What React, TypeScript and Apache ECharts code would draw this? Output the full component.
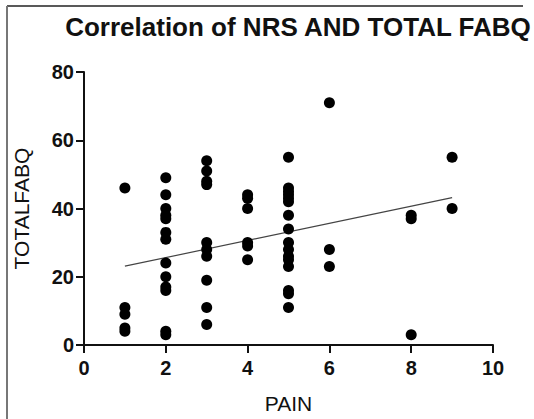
import React, { useEffect, useRef } from "react";
import * as echarts from "echarts";

const painLevels = [1, 2, 3, 4, 5, 6, 8, 9];
const fabqPain1 = [46, 11, 9, 5, 4];
const fabqPain2 = [49, 44, 40, 38, 37, 33, 31, 24, 20, 17, 16, 4, 3];
const fabqPain3 = [54, 51, 48, 47, 30, 28, 26, 19, 11, 6];
const fabqPain4 = [44, 43, 40, 30, 29, 25];
const fabqPain5 = [55, 46, 45, 44, 43, 42, 38, 34, 30, 28, 26, 25, 23, 16, 15, 11];
const fabqPain6 = [71, 28, 23];
const fabqPain8 = [38, 37, 3];
const fabqPain9 = [55, 40];
const fabqByPain = [fabqPain1, fabqPain2, fabqPain3, fabqPain4, fabqPain5, fabqPain6, fabqPain8, fabqPain9];

const fitPain = [1, 9];
const fitFabq = [23.1, 43.2];

const xTicks = [0, 2, 4, 6, 8, 10];
const yTicks = [0, 20, 40, 60, 80];

export default function App() {
  const ref = useRef<HTMLDivElement>(null);
  useEffect(() => {
    if (!ref.current) return;
    const chart = echarts.init(ref.current, null, { renderer: "svg" });
    const points: number[][] = [];
    painLevels.forEach((p, i) => fabqByPain[i].forEach((v) => points.push([p, v])));
    const fit = fitPain.map((p, i) => [p, fitFabq[i]]);
    const font = "'Liberation Sans', Arial, sans-serif";
    chart.setOption({
      animation: false,
      backgroundColor: "#ffffff",
      title: {
        text: "Correlation of NRS AND TOTAL FABQ",
        left: 293,
        top: 9,
        textAlign: "center",
        textStyle: { fontFamily: font, fontSize: 26, fontWeight: "bold", color: "#111" },
      },
      grid: { left: 84, right: 41, top: 72, bottom: 73 },
      xAxis: {
        type: "value",
        min: xTicks[0],
        max: xTicks[xTicks.length - 1],
        interval: 2,
        name: "PAIN",
        nameLocation: "middle",
        nameGap: 48,
        nameTextStyle: { fontFamily: font, fontSize: 21, color: "#111" },
        axisLine: { onZero: false, lineStyle: { color: "#111", width: 2 } },
        axisTick: { show: true, length: 8, lineStyle: { color: "#111", width: 2 } },
        axisLabel: { fontFamily: font, fontSize: 20, fontWeight: "bold", color: "#111", margin: 13 },
        splitLine: { show: false },
      },
      yAxis: {
        type: "value",
        min: yTicks[0],
        max: yTicks[yTicks.length - 1],
        interval: 20,
        name: "TOTALFABQ",
        nameLocation: "middle",
        nameGap: 52,
        nameTextStyle: { fontFamily: font, fontSize: 21, color: "#111" },
        axisLine: { onZero: false, lineStyle: { color: "#111", width: 2 } },
        axisTick: { show: true, length: 8, lineStyle: { color: "#111", width: 2 } },
        axisLabel: { fontFamily: font, fontSize: 20, fontWeight: "bold", color: "#111", margin: 10 },
        splitLine: { show: false },
      },
      graphic: [
        { type: "line", shape: { x1: 7, y1: 6, x2: 523, y2: 6 }, style: { stroke: "#222", lineWidth: 1.5 } },
        { type: "line", shape: { x1: 7, y1: 6, x2: 7, y2: 419 }, style: { stroke: "#777", lineWidth: 2 } },
      ],
      series: [
        {
          type: "scatter",
          data: points,
          symbol: "circle",
          symbolSize: 11,
          itemStyle: { color: "#000", opacity: 1 },
          z: 3,
        },
        {
          type: "line",
          data: fit,
          symbol: "none",
          lineStyle: { color: "#444", width: 1.2 },
          z: 2,
        },
      ],
    });
    return () => chart.dispose();
  }, []);
  return (
    <div
      ref={ref}
      style={{ position: "fixed", left: 0, top: 0, width: 534, height: 419, background: "#fff" }}
    />
  );
}
